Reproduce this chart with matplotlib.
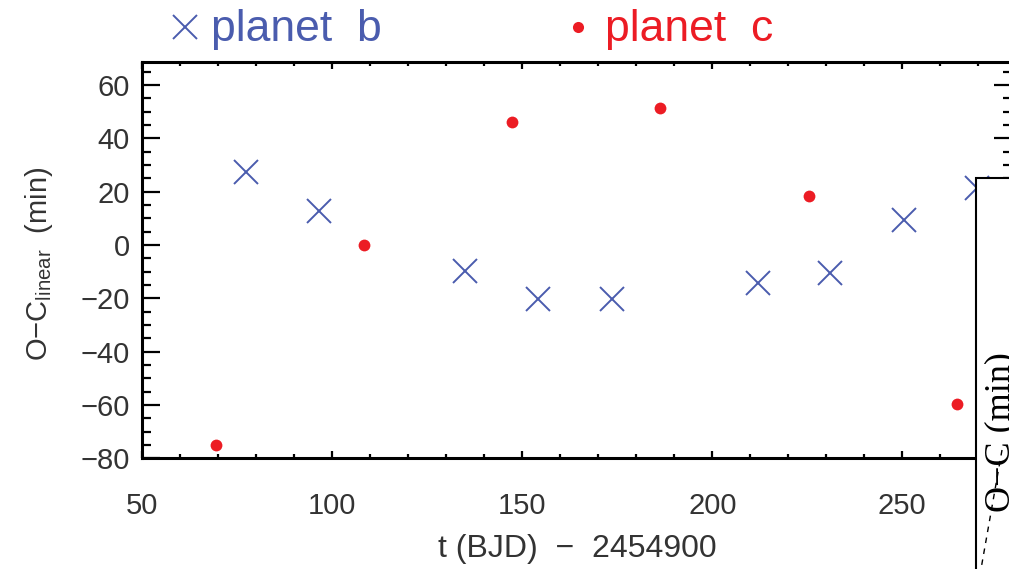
import numpy as np
import matplotlib
matplotlib.use("Agg")
import matplotlib.pyplot as plt
from matplotlib.lines import Line2D
from matplotlib.patches import Rectangle
from matplotlib.ticker import MultipleLocator

plt.rcParams['font.family'] = ['Liberation Sans', 'DejaVu Sans']
plt.rcParams['mathtext.fontset'] = 'custom'
plt.rcParams['mathtext.sf'] = 'Liberation Sans'
plt.rcParams['mathtext.rm'] = 'Liberation Sans'

#--------- transit times (BJD - 2454900) and O-C residuals (min) ---------#
t_b = [77.3, 96.5, 134.9, 154.1, 173.6, 212.0, 231.0, 250.5, 269.6]
oc_b = [27.4, 12.7, -9.7, -20.2, -20.2, -14.2, -10.5, 9.4, 21.5]
t_c = [69.4, 108.4, 147.3, 186.3, 225.5, 264.4]
oc_c = [-75.0, 0.1, 46.1, 51.4, 18.4, -59.6]

blue = '#4a5cae'
red = '#ec1c24'
grey = '#333333'

W, H = 1009, 569
fig = plt.figure(figsize=(W / 100, H / 100), dpi=100)

x0, x1 = 50, 279
y0, y1 = -80, 68.6
ax = fig.add_axes([142.3 / W, (H - 458.3) / H, (x1 - x0) * 3.8 / W, (458.3 - 62) / H])

ax.plot(t_b, oc_b, ls='none', marker='x', ms=17, mew=1.4, color=blue)
ax.plot(t_c, oc_c, ls='none', marker='o', ms=8.5, mew=0, color=red)

ax.set_xlim(x0, x1)
ax.set_ylim(y0, y1)
ax.xaxis.set_major_locator(MultipleLocator(50))
ax.xaxis.set_minor_locator(MultipleLocator(10))
ax.yaxis.set_major_locator(MultipleLocator(20))
ax.yaxis.set_minor_locator(MultipleLocator(5))

for s in ax.spines.values():
    s.set_linewidth(2.2)
ax.tick_params(axis='x', which='major', direction='in', length=5, width=1.6,
               top=True, pad=24, labelsize=21, labelcolor=grey)
ax.tick_params(axis='x', which='minor', direction='in', length=3, width=1.6, top=True)
ax.tick_params(axis='y', which='major', direction='in', length=13, width=1.6,
               right=True, pad=9, labelsize=21, labelcolor=grey)
ax.tick_params(axis='y', which='minor', direction='in', length=6.5, width=1.6, right=True)

ax.set_xlabel('t (BJD)  \u2212  2454900', fontsize=23, color=grey)
ax.xaxis.set_label_coords(0.5, -0.19)
ax.set_ylabel('O\u2212C$_{\\mathsf{linear}}$  (min)', fontsize=21, color=grey)
ax.yaxis.set_label_coords(-0.10, 0.49)

# legend row above the frame
fig.add_artist(Line2D([185 / W], [1 - 27 / H], marker='x', ms=17, mew=1.4, color=blue, ls='none'))
fig.text(211 / W, 1 - 29 / H, 'planet  b', fontsize=32, color=blue,
         ha='left', va='center')
fig.add_artist(Line2D([578 / W], [1 - 27 / H], marker='o', ms=8, mew=0, color=red, ls='none'))
fig.text(605 / W, 1 - 29 / H, 'planet  c', fontsize=32, color=red,
         ha='left', va='center')

# neighbouring panel overlapping the right edge
fig.add_artist(Rectangle((976 / W, -0.02), 0.1, 1 - 178 / H + 0.02, transform=fig.transFigure,
                         facecolor='white', edgecolor='black', lw=1.5, zorder=5))
fig.text(984 / W, 1 - 432 / H, 'O\u2212C (min)', rotation=90, family='Liberation Serif',
         fontsize=26, ha='left', va='center', zorder=6)
fig.add_artist(Line2D([1002 / W, 981 / W], [1 - 450 / H, 0], transform=fig.transFigure,
                      ls=(0, (4, 4)), color='black', lw=1, zorder=7))

fig.savefig('out.png', dpi=100)
